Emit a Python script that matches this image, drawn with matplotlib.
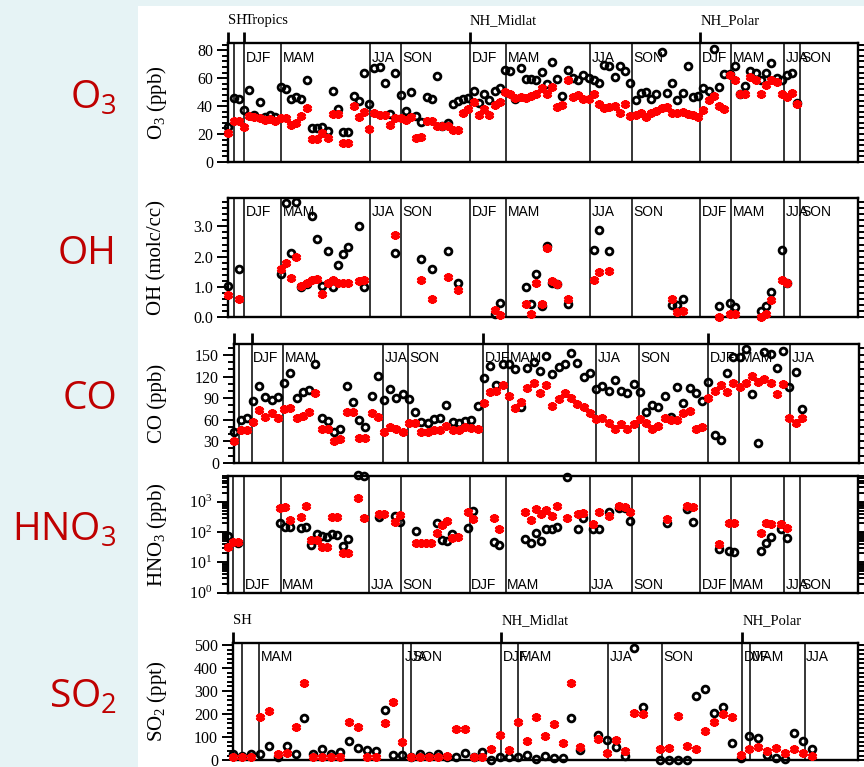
import numpy as np
import matplotlib
matplotlib.use('Agg')
import matplotlib.pyplot as plt
import matplotlib.transforms as mtrans
from matplotlib.ticker import MultipleLocator, FormatStrFormatter, LogLocator, NullFormatter, NullLocator
from matplotlib.patches import Rectangle

plt.rcParams['font.family'] = ['Liberation Serif', 'DejaVu Serif']
plt.rcParams['mathtext.fontset'] = 'stix'

nan = np.nan

# ---------------- data (black circles = obs, red stars = model) ----------------
o3_obs = [25.2, 46, 45, 37, 51.5, 33.7, 43, 32.5, 33.7, 32.5, 53.4, 52, 45, 46.8, 45, 59, 24.2, 24.2,
          25.4, 22.3, 51, 38.2, 21.4, 21.8, 47.2, 44, 63.4, 41.3, 67, 68, 56.3, 34.4, 63.9, 48, 36.8,
          50, 33, 28.3, 46.3, 45, 61.7, 25.9, 27.8, 41.3, 43.7, 45, 46, 50.8, 42, 48.4, 44.4, 50.8,
          52.7, 65.8, 65, 44.9, 67.4, 59.1, 59.1, 58.6, 64.1, 55.5, 71.7, 59.1, 47.2, 65.8, 60.3, 58.6,
          62.2, 60.3, 58.6, 56.3, 69.3, 68.8, 61, 68.6, 65.3, 56.3, 44.4, 49.1, 49.9, 44.9, 48.4, 78.8,
          49.6, 56.3, 44.4, 49.6, 68.6, 46.3, 47.2, 52.7, 51, 81.2, 53.4, 62.9, 62.9, 68.8, 48.7, 54.4,
          65.3, 63.4, 58.6, 63.9, 71, 60.3, 58.6, 62.2, 63.9, 42]
o3_model = [20.7, 29, 29, 25.4, 33, 32.5, 31.3, 30.1, 30.6, 29.7, 31.3, 31.3, 26.6, 27.8, 33, 38.5, 16.4,
            16.4, 20.7, 17.1, 34.4, 34.4, 13.5, 13.5, 40.1, 32, 36, 23.5, 35.4, 33.7, 33.7, 26.6, 31.3,
            31.3, 30.1, 32.5, 17.1, 17.6, 29.7, 29.7, 25.9, 25.9, 25.9, 22.6, 22.6, 35.4, 37.7, 43.2,
            33.7, 37.7, 33.7, 40.8, 43.2, 50.3, 48.4, 45.6, 46.8, 45.6, 47.2, 48.7, 52.7, 48.7, 53.4,
            39.2, 40.8, 58.6, 46.8, 48, 44.9, 44.9, 48.4, 41.3, 38.5, 39.2, 40.1, 34.9, 41.5, 33, 33.7,
            34.9, 32, 34.9, 36.6, 38.5, 39.2, 34.9, 35.4, 36, 34.4, 33.7, 32.5, 37.3, 44.4, 47.2, 40.1,
            37.7, 62.2, 58.6, 48.7, 48.7, 60.5, 58.6, 48.7, 55, 58.6, 57.4, 48.7, 46.8, 49.6, 41.5]

oh_idx = [0, 2, 10, 11, 12, 13, 14, 15, 16, 17, 18, 19, 20, 21, 22, 23, 25, 26, 32, 37, 39, 42, 44, 51,
          52, 57, 58, 59, 60, 61, 62, 63, 65, 70, 71, 73, 85, 86, 87, 94, 96, 97, 102, 103, 104, 106, 107]
oh_obs = [1.02, 1.59, 1.41, 3.76, 2.13, 3.80, 0.98, 1.10, 3.36, 2.59, 1.03, 2.20, 0.98, 1.73, 2.09, 2.31,
          3.00, 1.00, 2.13, 1.92, 1.59, 2.19, 1.11, 0.09, 0.45, 0.98, 0.42, 1.44, 0.36, 2.36, 1.13, 1.09,
          0.44, 2.22, 2.89, 2.17, 0.39, 0.41, 0.61, 0.37, 0.48, 0.33, 0.19, 0.36, 0.83, 2.22, 1.13]
oh_model = [0.74, 0.61, 1.58, 1.80, 1.30, 1.98, 1.02, 1.11, 1.24, 1.26, 0.76, 1.13, 1.24, 1.13, 1.11, 1.11,
            1.20, 1.22, 2.70, 1.24, 0.61, 1.33, 0.91, 0.22, 0.06, 0.44, 0.11, 1.14, 0.44, 2.28, 1.20, 1.09,
            0.61, 1.22, 1.50, 1.53, 0.59, 0.17, 0.19, 0.00, 0.09, 0.09, 0.00, 0.11, 0.56, 1.22, 1.11]

co_obs = [42.3, 59.4, 61.8, 86.4, 106.8, 91, 87.3, 91, 110.5, 124.5, 89.6, 98, 101.2, 137.5, 61.8, 58,
          43.2, 46.4, 107.3, 84, 59.4, 50.2, 92.9, 120.7, 87.3, 102.2, 89.6, 95.7, 88.2, 70.1, 57.1, 54.8,
          60.4, 61.8, 80.3, 57.1, 54.8, 58.5, 59.4, 78.9, 118.4, 134.7, 108, 137, 137, 130.5, 77.1, 132.4,
          139.8, 127.7, 149, 123, 132.8, 137.5, 153.3, 138.4, 118.9, 125.4, 102.2, 106.8, 99.8, 115.2,
          99.8, 96.6, 109.6, 98, 70.1, 80.3, 78, 93.3, 63.2, 105, 82.7, 103.6, 97.5, 86.4, 112.8, 38.5,
          31.6, 125.4, 147.7, 147.7, 157.9, 95.7, 27.9, 154.6, 150.9, 131.4, 156, 105.9, 126.8, 74.8]
co_model = [30.2, 45.5, 45.5, 57.1, 73.4, 63.2, 69.7, 61.8, 74.8, 76.6, 61.8, 65, 70.1, 97.5, 46.9, 46.9,
            30.2, 32.5, 71, 71, 34.8, 34.8, 68.7, 64.1, 43.2, 49.2, 46.4, 43.2, 55.7, 54.8, 43.2, 43.2,
            45.5, 45.5, 51.5, 45.5, 45.5, 49.2, 47.8, 46.4, 83.6, 98, 100.3, 108, 92.9, 76.6, 85, 104.5,
            111.5, 96.6, 108.2, 79, 88.2, 97.5, 90.6, 81.7, 78, 69.7, 60.4, 61.8, 54.8, 46.4, 53.4, 46.4,
            53.4, 60.4, 54.8, 46.4, 51.1, 61.8, 59.4, 59.4, 68.7, 72.4, 46.4, 49.2, 89.6, 100.3, 108.2, 98,
            111.5, 105, 110.5, 120.7, 112.8, 116, 111.5, 95.7, 109.6, 61.8, 54.8, 61.8]

hno3_obs_idx = [0, 2, 10, 11, 12, 14, 15, 16, 17, 18, 19, 20, 21, 22, 23, 25, 26, 29, 32, 33, 36, 40, 41,
                42, 43, 46, 47, 51, 52, 57, 58, 59, 60, 61, 62, 63, 65, 67, 68, 70, 71, 73, 75, 76, 77, 84,
                88, 89, 94, 96, 97, 102, 103, 104, 106, 107]
hno3_obs = [75, 42, 204, 142, 142, 132, 150, 37, 84, 75, 70, 86, 80, 35, 59, 7500, 7200, 320, 345, 208,
            108, 193, 54, 50, 84, 132, 505, 48, 37, 57, 42, 90, 50, 125, 125, 150, 6600, 122, 282, 122,
            122, 445, 600, 600, 237, 193, 560, 218, 27, 23.6, 21.4, 23.6, 42, 67, 122, 62]
hno3_model_idx = [0, 1, 2, 10, 11, 12, 14, 15, 16, 17, 18, 19, 20, 21, 22, 23, 25, 26, 29, 30, 32, 33, 36,
                  37, 38, 39, 40, 41, 42, 43, 44, 46, 47, 51, 52, 57, 58, 59, 60, 61, 62, 63, 65, 67, 68,
                  70, 71, 73, 75, 76, 77, 84, 88, 89, 94, 96, 97, 102, 103, 104, 106, 107]
hno3_model = [33, 46, 46, 600, 690, 250, 302, 740, 54, 54, 33, 33, 302, 302, 20, 20, 1350, 282, 400, 400,
              218, 363, 45, 45, 45, 45, 91, 170, 230, 65, 70, 470, 270, 296, 122, 445, 250, 560, 380, 535,
              335, 740, 282, 380, 435, 183, 445, 335, 740, 690, 445, 270, 740, 690, 40, 204, 204, 91, 193,
              178, 183, 138]

so2_obs = [29, 17, 27, 29, 60, 14, 60, 29, 183, 29, 49, 29, 35, 82, 53, 43, 42, 216, 22, 22, 12, 29, 20,
           27, 15, 14, 32, 12, 35, 3, 14, 13, 13, 24, 6, 17, 10, 10, 183, 43, nan, 111, 86, 58, 20, 486,
           233, nan, 3, 3, 3, 3, 280, 308, 207, 233, 75, 10, 104, 97, 22, 10, 6, 118, 85, 49]
so2_model = [14, 14, 14, 187, 212, 29, 32, 143, 334, 14, 14, 14, 14, 164, 143, 13, 13, 161, 251, 79, 14,
             14, 14, 14, 20, 135, 135, 14, 14, 50, 108, 46, 166, 82, 187, 107, 159, 75, 337, 56, nan, 92,
             32, 89, 39, 207, 200, nan, 49, 53, 190, 63, 50, 128, 164, 200, 186, 24, 50, 56, 39, 53, 32,
             50, 32, 20]

# season boundaries (sample index) and their labels
bounds_a = [1.1, 3.07, 10.15, 27.1, 33.1, 46.3, 53.2, 69.3, 77.3, 90.4, 96.3, 106.5, 109.5]
seasons_a = ['', 'DJF', 'MAM', 'JJA', 'SON', 'DJF', 'MAM', 'JJA', 'SON', 'DJF', 'MAM', 'JJA', 'SON']
regions_a = [(0, 'SH'), (3.07, 'Tropics'), (46.3, 'NH_Midlat'), (90.4, 'NH_Polar')]

bounds_co = [0.8, 2.8, 7.85, 23.9, 27.9, 39.9, 43.9, 58.0, 64.9, 76.0, 80.9, 89.1]
seasons_co = ['', 'DJF', 'MAM', 'JJA', 'SON', 'DJF', 'MAM', 'JJA', 'SON', 'DJF', 'MAM', 'JJA']
regions_co = [(0, ''), (2.8, ''), (39.9, ''), (76.0, '')]

bounds_so2 = [1.0, 2.9, 19.1, 20.0, 30.1, 32.0, 42.1, 48.2, 57.2, 58.1, 64.2]
seasons_so2 = ['', 'MAM', 'JJA', 'SON', 'DJF', 'MAM', 'JJA', 'SON', 'DJF', 'MAM', 'JJA']
regions_so2 = [(0, 'SH'), (30.1, 'NH_Midlat'), (57.2, 'NH_Polar')]

# ---------------- figure ----------------
W, H = 864, 767
fig = plt.figure(figsize=(W / 100, H / 100), dpi=100)
fig.patch.set_facecolor('#e6f3f5')
fig.add_artist(Rectangle((138 / W, 0), 1, 1 - 6 / H, transform=fig.transFigure,
                         facecolor='white', edgecolor='none', zorder=-10))

SANS = ['Liberation Sans', 'DejaVu Sans']
RED_LBL = '#bf0000'


def make_ax(l, t, r, b):
    return fig.add_axes([l / W, 1 - b / H, (r - l) / W, (b - t) / H])


def panel(box, x_obs, obs, x_mod, mod, xmax, ylim, bounds, seasons, regions, ylabel, biglabel,
          major=None, minor=None, fmt=None, log=False, season_pos='top', region_ticks=True):
    l, t, r, b = box
    ax = make_ax(l, t, r, b)
    hpx = b - t
    ax.set_xlim(0, xmax)
    if log:
        ax.set_yscale('log')
        ax.set_ylim(*ylim)
        ax.yaxis.set_major_locator(LogLocator(base=10, numticks=10))
        ax.yaxis.set_minor_locator(LogLocator(base=10, subs=np.arange(2, 10), numticks=20))
        ax.yaxis.set_minor_formatter(NullFormatter())
    else:
        ax.set_ylim(*ylim)
        ax.yaxis.set_major_locator(MultipleLocator(major))
        ax.yaxis.set_minor_locator(MultipleLocator(minor))
        ax.yaxis.set_major_formatter(FormatStrFormatter(fmt))
    ax.xaxis.set_major_locator(NullLocator())
    ax.xaxis.set_minor_locator(NullLocator())
    for s in ax.spines.values():
        s.set_linewidth(1.7)
    ax.tick_params(axis='y', which='both', direction='out', left=True, right=True,
                   labelleft=True, labelright=False, width=1.4, labelsize=11.5, pad=3)
    ax.tick_params(axis='y', which='major', length=8)
    ax.tick_params(axis='y', which='minor', length=4.5)

    blend = mtrans.blended_transform_factory(ax.transData, ax.transAxes)
    for bx, lab in zip(bounds, seasons):
        ax.axvline(bx, color='black', lw=1.1, zorder=1)
        if lab:
            tr = mtrans.offset_copy(blend, fig=fig, x=1.5, y=0, units='dots')
            if season_pos == 'top':
                ax.text(bx, 1 - 7.5 / hpx, lab, transform=tr, ha='left', va='top',
                        family=SANS, fontsize=10)
            else:
                ax.text(bx, 3.5 / hpx, lab, transform=tr, ha='left', va='baseline',
                        family=SANS, fontsize=10)
    if region_ticks:
        for rx, name in regions:
            ax.plot([rx, rx], [1, 1 + 11 / hpx], transform=blend, color='black', lw=2.0,
                    clip_on=False, solid_capstyle='butt')
            if name:
                ax.text(rx, 1 + 19 / hpx, name, transform=blend, ha='left', va='baseline',
                        fontsize=10.5)

    ax.plot(x_obs, obs, linestyle='none', marker='o', ms=4.9, mfc='none', mec='black', mew=2.0,
            clip_on=False, zorder=3)
    ax.plot(x_mod, mod, linestyle='none', marker=(6, 2, 0), ms=6.4, mec='red', mew=2.4,
            clip_on=False, zorder=4)

    fig.text(157 / W, 1 - ((t + b) / 2) / H, ylabel, rotation=90, ha='center', va='center',
             fontsize=15)
    fig.text(117 / W, 1 - ((t + b) / 2 - 4) / H, biglabel, ha='right', va='center',
             family=['Open Sans', 'DejaVu Sans'], fontsize=28, color=RED_LBL)
    return ax


n_a = 120.6
x_o3 = np.arange(len(o3_obs))
panel((228.3, 43, 858, 162), x_o3, o3_obs, x_o3, o3_model, n_a, (0, 85.2),
      bounds_a, seasons_a, regions_a, r'$\mathregular{O_3}$ (ppb)', r'$\mathregular{O_3}$',
      major=20, minor=4, fmt='%d')

panel((228.3, 198, 858, 317), oh_idx, oh_obs, oh_idx, oh_model, n_a, (0, 3.94),
      bounds_a, seasons_a, regions_a, 'OH (molc/cc)', 'OH',
      major=1.0, minor=0.2, fmt='%.1f', region_ticks=False)

x_co = np.arange(len(co_obs))
panel((234.3, 344, 859.3, 462.7), x_co, co_obs, x_co, co_model, 100.2, (0, 165.3),
      bounds_co, seasons_co, regions_co, 'CO (ppb)', 'CO',
      major=30, minor=10, fmt='%d')

panel((227.7, 475.7, 857.7, 592.7), hno3_obs_idx, hno3_obs, hno3_model_idx, hno3_model, n_a,
      (1, 7200), bounds_a, seasons_a, regions_a, r'$\mathregular{HNO_3}$ (ppb)',
      r'$\mathregular{HNO_3}$', log=True, season_pos='bottom', region_ticks=False)

x_so2 = np.arange(len(so2_obs))
panel((233.3, 642.7, 858, 760.2), x_so2, so2_obs, x_so2, so2_model, 70.2, (0, 510),
      bounds_so2, seasons_so2, regions_so2, r'$\mathregular{SO_2}$ (ppt)', r'$\mathregular{SO_2}$',
      major=100, minor=20, fmt='%d')

fig.savefig('out.png', dpi=100, facecolor=fig.get_facecolor())
